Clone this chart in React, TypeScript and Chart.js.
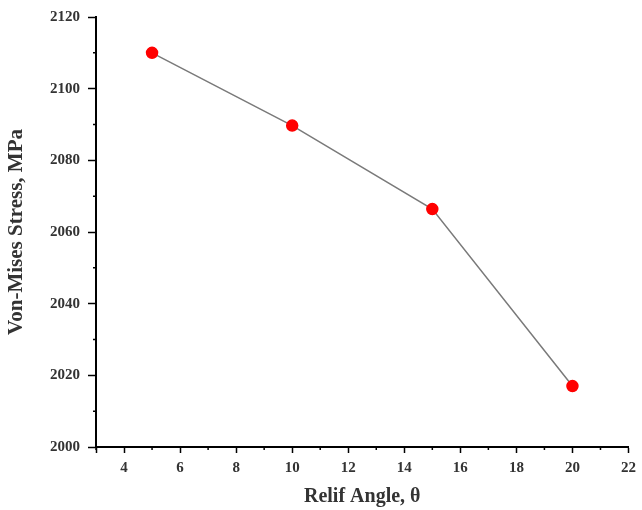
import React, { useEffect, useRef } from "react";
import { Chart, registerables } from "chart.js";

Chart.register(...registerables);

const reliefAngles = [5, 10, 15, 20];
const vonMisesStress = [2110, 2089.7, 2066.4, 2017];
const xMin = 3;
const xMax = 22;
const yMin = 2000;
const yMax = 2120;
const xMajorStep = 2;
const yMajorStep = 20;
const xMinorTicks = [3, 5, 7, 9, 11, 13, 15, 17, 19, 21];
const yMinorTicks = [2010, 2030, 2050, 2070, 2090, 2110];

const minorTickPlugin = {
  id: "minorTicks",
  afterDraw(chart: any) {
    const ctx = chart.ctx;
    const xs = chart.scales.x;
    const ys = chart.scales.y;
    const area = chart.chartArea;
    ctx.save();
    ctx.strokeStyle = "#000";
    ctx.lineWidth = 1.5;
    ctx.beginPath();
    for (const v of xMinorTicks) {
      const px = xs.getPixelForValue(v);
      ctx.moveTo(px, area.bottom);
      ctx.lineTo(px, area.bottom + 3);
    }
    for (const v of yMinorTicks) {
      const py = ys.getPixelForValue(v);
      ctx.moveTo(area.left, py);
      ctx.lineTo(area.left - 3, py);
    }
    ctx.stroke();
    ctx.restore();
  },
};

export default function App() {
  const ref = useRef<HTMLCanvasElement>(null);
  useEffect(() => {
    if (!ref.current) return;
    const chart = new Chart(ref.current, {
      type: "line",
      data: {
        datasets: [
          {
            data: reliefAngles.map((x, i) => ({ x, y: vonMisesStress[i] })),
            borderColor: "#7a7a7a",
            borderWidth: 1.5,
            pointBackgroundColor: "#ff0000",
            pointBorderColor: "#ff0000",
            pointRadius: 5.5,
            tension: 0,
          },
        ],
      },
      options: {
        animation: false,
        responsive: false,
        layout: { padding: { top: 15, right: 8, left: 0, bottom: 0 } },
        plugins: { legend: { display: false }, tooltip: { enabled: false } },
        scales: {
          x: {
            type: "linear",
            min: xMin,
            max: xMax,
            afterFit: (s: any) => {
              s.height = 63;
            },
            ticks: {
              stepSize: xMajorStep,
              color: "#333",
              font: { family: "Liberation Serif", weight: "bold", size: 15 },
              padding: 6,
              callback: (v: any) => (Number(v) === xMin ? "" : String(v)),
            },
            grid: {
              drawOnChartArea: false,
              tickLength: 6,
              tickColor: "#000",
              tickWidth: 1.5,
            },
            border: { color: "#000", width: 2 },
            title: {
              display: true,
              text: "Relif Angle, θ",
              color: "#333",
              font: { family: "Liberation Serif", weight: "bold", size: 20 },
              padding: { top: 0, bottom: 1 },
            },
          },
          y: {
            type: "linear",
            min: yMin,
            max: yMax,
            afterFit: (s: any) => {
              s.width = 96;
            },
            ticks: {
              stepSize: yMajorStep,
              color: "#333",
              font: { family: "Liberation Serif", weight: "bold", size: 15 },
              padding: 8,
              callback: (v: any) => String(v),
            },
            grid: {
              drawOnChartArea: false,
              tickLength: 8,
              tickColor: "#000",
              tickWidth: 1.5,
            },
            border: { color: "#000", width: 2 },
            title: {
              display: true,
              text: "Von-Mises Stress, MPa",
              color: "#333",
              font: { family: "Liberation Serif", weight: "bold", size: 21 },
              padding: { top: 4, bottom: 0 },
            },
          },
        },
      },
      plugins: [minorTickPlugin],
    });
    return () => chart.destroy();
  }, []);
  return (
    <div style={{ position: "fixed", left: 0, top: 0, width: 642, height: 510, background: "#fff" }}>
      <canvas ref={ref} width={642} height={510} />
    </div>
  );
}
